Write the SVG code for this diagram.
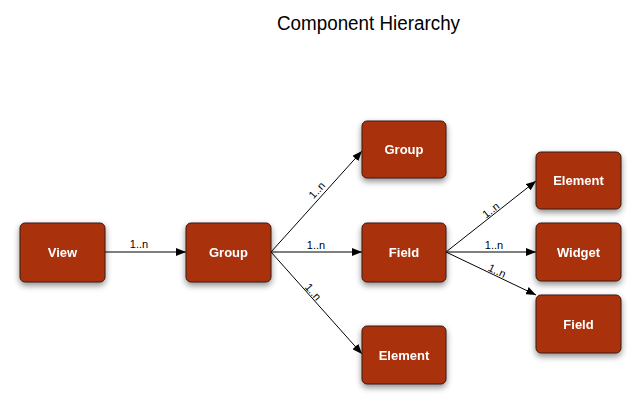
<svg xmlns="http://www.w3.org/2000/svg" width="640" height="407" viewBox="0 0 640 407">
  <style>
    .node rect { fill: #a93310; stroke: #3b1c12; stroke-width: 1; }
    .node text { fill: #ffffff; font-family: "Liberation Sans", Arial, sans-serif; font-weight: bold; font-size: 13px; text-anchor: middle; }
    .edge line { stroke: #000000; stroke-width: 1; marker-end: url(#arrow); }
    .lbl { fill: #000000; font-family: "Liberation Sans", Arial, sans-serif; font-size: 11px; text-anchor: middle; }
    .title { fill: #000000; font-family: "Liberation Sans", Arial, sans-serif; font-size: 20px; text-anchor: middle; }
  </style>
  <defs>
    <filter id="shadow" x="-20%" y="-20%" width="140%" height="150%">
      <feDropShadow dx="0" dy="3" stdDeviation="3" flood-color="#000000" flood-opacity="0.45"/>
    </filter>
    <marker id="arrow" viewBox="0 0 10 8" refX="10" refY="4" markerWidth="10" markerHeight="8" markerUnits="userSpaceOnUse" orient="auto">
      <path d="M0,0 L10,4 L0,8 Z" fill="#000000"/>
    </marker>
  </defs>

  <rect width="640" height="407" fill="#ffffff"/>

  <text class="title" x="368.5" y="30" textLength="183" lengthAdjust="spacingAndGlyphs">Component Hierarchy</text>

  <g id="connectors" class="edge">
    <line x1="105" y1="252" x2="186" y2="252"/>
    <line x1="271" y1="252" x2="362" y2="151"/>
    <line x1="271" y1="252" x2="362" y2="252"/>
    <line x1="271" y1="252" x2="362" y2="354"/>
    <line x1="446" y1="252" x2="536" y2="181"/>
    <line x1="446" y1="252" x2="536" y2="252"/>
    <line x1="446" y1="252" x2="536" y2="295"/>
    <text class="lbl" x="139" y="247.5">1..n</text>
    <text class="lbl" transform="translate(321.2,194) rotate(-48)" x="0" y="-2">1..n</text>
    <text class="lbl" x="316" y="248.5">1..n</text>
    <text class="lbl" transform="translate(308.8,295.7) rotate(48.5)" x="0" y="-2">1..n</text>
    <text class="lbl" transform="translate(494.4,214.7) rotate(-38)" x="0" y="-2">1..n</text>
    <text class="lbl" x="494" y="248.5">1..n</text>
    <text class="lbl" transform="translate(494.7,276.1) rotate(25.5)" x="0" y="-2">1..n</text>
  </g>

  <g id="view" class="node" filter="url(#shadow)">
    <rect x="20" y="223" width="85" height="59" rx="5"/>
    <text x="62.5" y="257">View</text>
  </g>
  <g id="group" class="node" filter="url(#shadow)">
    <rect x="186" y="223" width="85" height="59" rx="5"/>
    <text x="228.5" y="257">Group</text>
  </g>
  <g id="group2" class="node" filter="url(#shadow)">
    <rect x="362" y="121" width="84" height="57" rx="5"/>
    <text x="404" y="154">Group</text>
  </g>
  <g id="field" class="node" filter="url(#shadow)">
    <rect x="362" y="223" width="84" height="59" rx="5"/>
    <text x="404" y="257">Field</text>
  </g>
  <g id="element" class="node" filter="url(#shadow)">
    <rect x="362" y="326" width="84" height="58" rx="5"/>
    <text x="404" y="360">Element</text>
  </g>
  <g id="element2" class="node" filter="url(#shadow)">
    <rect x="536" y="152" width="85" height="57" rx="5"/>
    <text x="578.5" y="185">Element</text>
  </g>
  <g id="widget" class="node" filter="url(#shadow)">
    <rect x="536" y="223" width="85" height="58" rx="5"/>
    <text x="578.5" y="257">Widget</text>
  </g>
  <g id="field2" class="node" filter="url(#shadow)">
    <rect x="536" y="295" width="85" height="58" rx="5"/>
    <text x="578.5" y="329">Field</text>
  </g>
</svg>
